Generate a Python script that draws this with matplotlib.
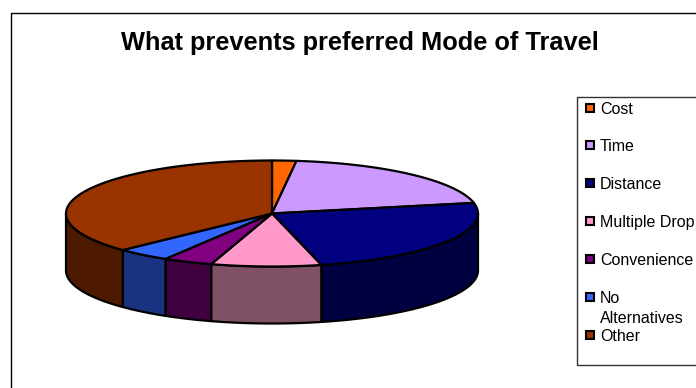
import numpy as np
import matplotlib
matplotlib.use("Agg")
import matplotlib.pyplot as plt
from matplotlib.patches import Polygon, Rectangle

plt.rcParams["font.family"] = ["Liberation Sans", "DejaVu Sans"]

categories = ["Cost", "Time", "Distance", "Multiple Drop", "Convenience", "No\nAlternatives", "Other"]
values = [1.9, 19.9, 24.35, 8.62, 3.88, 4.25, 37.1]
top_colors = ["#FF6600", "#CC99FF", "#000080", "#FF99CC", "#800080", "#3366FF", "#993300"]
side_colors = ["#803300", "#664D80", "#000040", "#805066", "#400040", "#1A3380", "#4D1A00"]
legend_y = [107, 144, 182, 220, 258, 296, 334]

cx, cy = 272, 213.5
rx, ry = 206, 53
depth = 57

fig = plt.figure(figsize=(6.96, 3.88), dpi=100)
ax = fig.add_axes([0, 0, 1, 1])
ax.set_xlim(0, 696)
ax.set_ylim(388, 0)
ax.axis("off")

# chart border runs off the right and bottom edges
ax.add_patch(Rectangle((10.5, 12.5), 720, 420, fill=False, ec="black", lw=1))
ax.text(359.5, 43, "What prevents preferred Mode of Travel", fontsize=18.3, fontweight="bold",
        ha="center", va="center")


def rim(a0, a1, n=80):
    t = np.radians(np.linspace(a0, a1, n))
    return np.column_stack([cx + rx * np.sin(t), cy - ry * np.cos(t)])


edges = np.concatenate([[0], np.cumsum(values)]) / np.sum(values) * 360

# side walls first, only the front half of the pie shows
for i in range(len(values)):
    a0 = max(edges[i], 90)
    a1 = min(edges[i + 1], 270)
    if a1 <= a0:
        continue
    front = rim(a0, a1)
    back = front[::-1] + [0, depth]
    ax.add_patch(Polygon(np.vstack([front, back]), closed=True, fc=side_colors[i], ec="black", lw=1.6, joinstyle="round"))

for i in range(len(values)):
    pts = np.vstack([[cx, cy], rim(edges[i], edges[i + 1])])
    ax.add_patch(Polygon(pts, closed=True, fc=top_colors[i], ec="black", lw=1.6, joinstyle="round"))

# legend
ax.add_patch(Rectangle((576.5, 97), 200, 268, fc="white", ec="#333333", lw=1))
for name, col, y in zip(categories, top_colors, legend_y):
    ax.add_patch(Rectangle((586, y - 3.5), 8, 8, fc=col, ec="black", lw=1.5))
    ax.text(600, y - 5, name, fontsize=11.5, ha="left", va="top", linespacing=1.45)

fig.savefig("out.png", dpi=100)
